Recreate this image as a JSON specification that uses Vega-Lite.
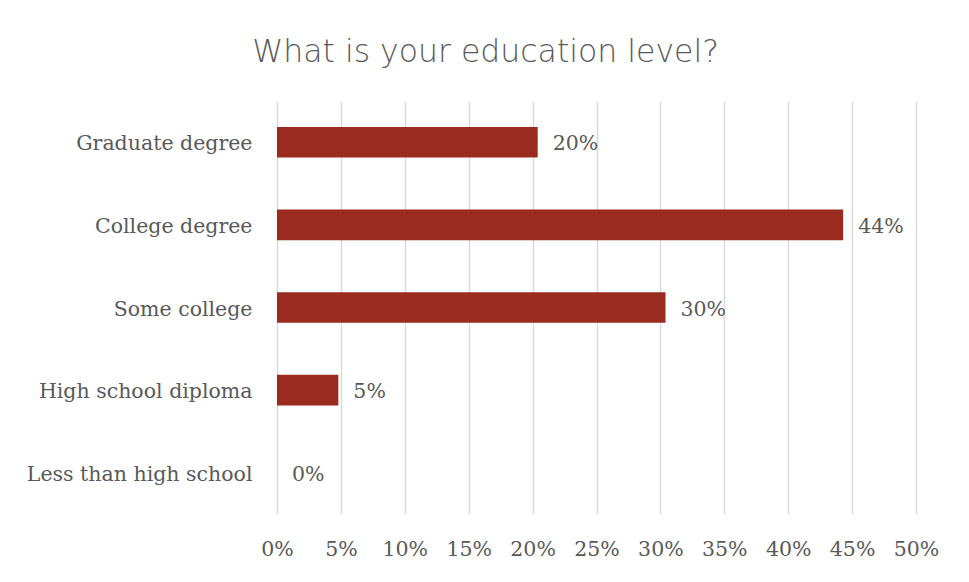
{
  "$schema": "https://vega.github.io/schema/vega-lite/v6.json",
  "autosize": "none",
  "width": 639,
  "height": 413,
  "padding": {"left": 277, "top": 101, "right": 53, "bottom": 68},
  "background": "white",
  "title": {
    "text": "What is your education level?",
    "font": "DejaVu Sans",
    "fontWeight": 200,
    "fontSize": 31.5,
    "color": "#595959",
    "anchor": "middle",
    "frame": "group",
    "dx": -111,
    "offset": 33
  },
  "data": {
    "values": [
      {"level": "Graduate degree", "share": 0.204},
      {"level": "College degree", "share": 0.443},
      {"level": "Some college", "share": 0.304},
      {"level": "High school diploma", "share": 0.048},
      {"level": "Less than high school", "share": 0.0}
    ]
  },
  "config": {
    "view": {"stroke": null},
    "axis": {
      "labelFont": "DejaVu Serif",
      "labelFontSize": 20.5,
      "labelColor": "#595959",
      "labelLimit": 400,
      "labelOverlap": false,
      "labelFlush": false,
      "domain": false,
      "ticks": false,
      "title": null
    }
  },
  "encoding": {
    "y": {
      "field": "level",
      "type": "nominal",
      "sort": null,
      "scale": {"paddingInner": 0.63, "paddingOuter": 0.315},
      "axis": {"labelPadding": 25, "grid": false, "labelOffset": 2}
    },
    "x": {
      "field": "share",
      "type": "quantitative",
      "scale": {"domain": [0, 0.5], "nice": false},
      "axis": {
        "format": ".0%",
        "values": [0, 0.05, 0.1, 0.15, 0.2, 0.25, 0.3, 0.35, 0.4, 0.45, 0.5],
        "grid": true,
        "gridColor": "#d9d9d9",
        "gridWidth": 1.5,
        "labelPadding": 25
      }
    }
  },
  "layer": [
    {"mark": {"type": "bar", "color": "#9A2C1F"}},
    {
      "mark": {
        "type": "text",
        "align": "left",
        "baseline": "middle",
        "dx": 15,
        "dy": 2,
        "font": "DejaVu Serif",
        "fontSize": 20.5,
        "color": "#595959"
      },
      "encoding": {"text": {"field": "share", "type": "quantitative", "format": ".0%"}}
    }
  ]
}
